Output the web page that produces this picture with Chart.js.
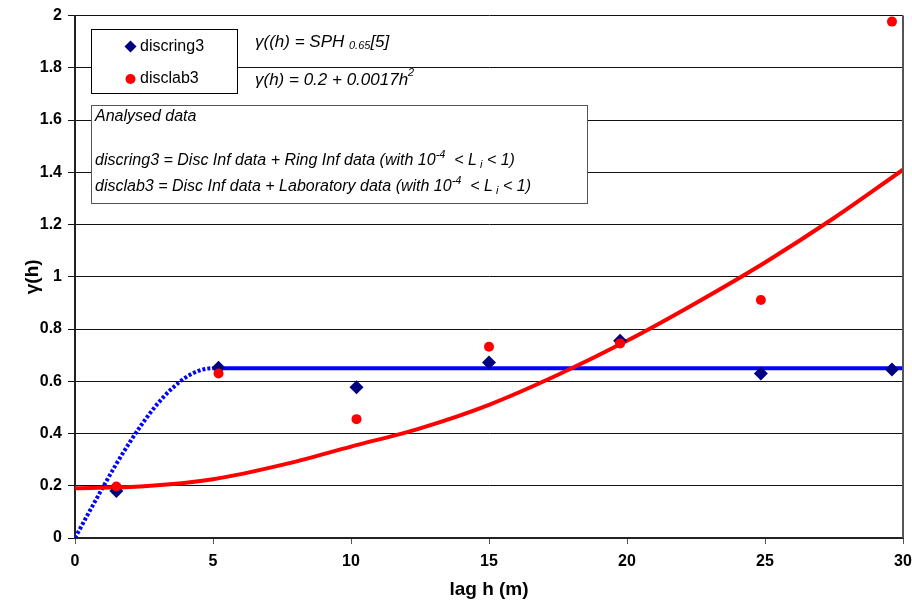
<!DOCTYPE html>
<html>
<head>
<meta charset="utf-8">
<script src="https://cdn.jsdelivr.net/npm/chart.js@4.4.1/dist/chart.umd.min.js"></script>
<style>
  html, body { margin: 0; padding: 0; background: #fff; }
  canvas { display: block; }
</style>
</head>
<body>
<canvas id="variogram" width="912" height="606"></canvas>
<script>
// observed experimental variogram points
const lags = [1.5, 5.2, 10.2, 15.0, 19.75, 24.85, 29.6];
const discring3 = [0.18, 0.652, 0.577, 0.672, 0.755, 0.63, 0.645];
const disclab3 = [0.197, 0.63, 0.455, 0.732, 0.745, 0.911, 1.977];

// fitted models
const sphLags = [0, 0.5, 1, 1.5, 2, 2.5, 3, 3.5, 4, 4.5, 5, 30];
const sphModel = [0, 0.097, 0.192, 0.284, 0.369, 0.447, 0.515, 0.571, 0.614, 0.641, 0.65, 0.65];
const quadLags = [0, 2.5, 5, 7.5, 10, 12.5, 15, 17.5, 20, 22.5, 25, 27.5, 30];
const quadModel = [0.19, 0.198, 0.225, 0.28, 0.35, 0.42, 0.51, 0.625, 0.755, 0.9, 1.055, 1.225, 1.41];

const xTicks = [0, 5, 10, 15, 20, 25, 30];
const yTicks = [0, 0.2, 0.4, 0.6, 0.8, 1, 1.2, 1.4, 1.6, 1.8, 2];

const FONT = "Arial, 'Liberation Sans', sans-serif";

function pts(xs, ys) {
    return xs.map((x, i) => ({ x: x, y: ys[i] }));
}

// draws a list of text pieces one after another (for sub/superscripts)
function drawRuns(ctx, x, y, runs) {
    runs.forEach(r => {
        ctx.font = r.font;
        ctx.fillText(r.t, x, y + (r.dy || 0));
        x += ctx.measureText(r.t).width;
    });
}

const itF = "italic 17px " + FONT;
const itFSmall = "italic 11px " + FONT;
const it = "italic 16px " + FONT;
const itSmall = "italic 11px " + FONT;

const boxesPlugin = {
    id: 'boxes',
    afterDraw(chart) {
        const ctx = chart.ctx;
        const area = chart.chartArea;
        ctx.save();

        // right frame line
        ctx.strokeStyle = '#555';
        ctx.lineWidth = 2;
        ctx.beginPath();
        ctx.moveTo(area.right, area.top);
        ctx.lineTo(area.right, area.bottom);
        ctx.stroke();

        // legend box
        ctx.fillStyle = '#fff';
        ctx.fillRect(91.5, 29.5, 146, 64);
        ctx.strokeStyle = '#000';
        ctx.lineWidth = 1;
        ctx.strokeRect(91.5, 29.5, 146, 64);

        ctx.fillStyle = '#000080';
        ctx.beginPath();
        ctx.moveTo(130.5, 40.5); ctx.lineTo(136.5, 46.5);
        ctx.lineTo(130.5, 52.5); ctx.lineTo(124.5, 46.5);
        ctx.closePath(); ctx.fill();
        ctx.fillStyle = '#ff0000';
        ctx.beginPath();
        ctx.arc(130.5, 79, 5, 0, Math.PI * 2);
        ctx.fill();

        ctx.fillStyle = '#000';
        ctx.textBaseline = 'middle';
        ctx.textAlign = 'left';
        ctx.font = "16px " + FONT;
        ctx.fillText('discring3', 140, 46.5);
        ctx.fillText('disclab3', 140, 79);

        // model formulas
        drawRuns(ctx, 255, 42, [
            { t: 'γ((h) = SPH ', font: itF },
            { t: '0.65', font: itFSmall, dy: 4 },
            { t: '[5]', font: itF }
        ]);
        drawRuns(ctx, 255, 80, [
            { t: 'γ(h) = 0.2 + 0.0017h', font: itF },
            { t: '2', font: itFSmall, dy: -7 }
        ]);

        // data description box
        ctx.fillStyle = '#fff';
        ctx.fillRect(91.5, 105.5, 496, 98);
        ctx.strokeStyle = '#555';
        ctx.strokeRect(91.5, 105.5, 496, 98);
        ctx.fillStyle = '#000';
        ctx.font = it;
        ctx.fillText('Analysed data', 95, 117);
        drawRuns(ctx, 95, 161, [
            { t: 'discring3 = Disc Inf data + Ring Inf data (with 10', font: it },
            { t: '-4', font: itSmall, dy: -6 },
            { t: '  < L', font: it },
            { t: ' i', font: itSmall, dy: 4 },
            { t: ' < 1)', font: it }
        ]);
        drawRuns(ctx, 95, 187, [
            { t: 'disclab3 = Disc Inf data + Laboratory data (with 10', font: it },
            { t: '-4', font: itSmall, dy: -6 },
            { t: '  < L', font: it },
            { t: ' i', font: itSmall, dy: 4 },
            { t: ' < 1)', font: it }
        ]);
        ctx.restore();
    }
};

new Chart(document.getElementById('variogram'), {
    type: 'scatter',
    data: {
        datasets: [
            {
                label: 'SPH',
                data: pts(sphLags, sphModel),
                showLine: true,
                borderColor: '#0000ff',
                borderWidth: 4,
                pointRadius: 0,
                cubicInterpolationMode: 'monotone',
                segment: {
                    borderDash: c => c.p1.parsed.x <= 5 ? [3, 2] : undefined
                },
                order: 4
            },
            {
                label: 'quadratic',
                data: pts(quadLags, quadModel),
                showLine: true,
                borderColor: '#ff0000',
                borderWidth: 4,
                pointRadius: 0,
                cubicInterpolationMode: 'monotone',
                order: 3
            },
            {
                label: 'discring3',
                data: pts(lags, discring3),
                pointStyle: 'rectRot',
                pointRadius: 7,
                backgroundColor: '#000080',
                borderColor: '#000080',
                borderWidth: 0,
                order: 2
            },
            {
                label: 'disclab3',
                data: pts(lags, disclab3),
                pointStyle: 'circle',
                pointRadius: 5,
                backgroundColor: '#ff0000',
                borderColor: '#ff0000',
                borderWidth: 0,
                order: 1
            }
        ]
    },
    options: {
        responsive: false,
        animation: false,
        layout: { padding: { top: 11, right: 0, left: 0, bottom: 0 } },
        plugins: {
            legend: { display: false },
            tooltip: { enabled: false }
        },
        scales: {
            x: {
                type: 'linear',
                min: 0,
                max: 30,
                afterBuildTicks: s => { s.ticks = xTicks.map(v => ({ value: v })); },
                afterFit: s => { s.height = 68; s.paddingRight = 9; },
                ticks: {
                    color: '#000',
                    padding: 8,
                    font: { family: FONT, size: 16, weight: 'bold' }
                },
                grid: { drawOnChartArea: false, tickLength: 6, color: '#555' },
                border: { width: 2, color: '#222' },
                title: {
                    display: true,
                    text: 'lag h (m)',
                    color: '#000',
                    padding: { top: 5, bottom: 5 },
                    font: { family: FONT, size: 19, weight: 'bold' }
                }
            },
            y: {
                type: 'linear',
                min: 0,
                max: 2,
                afterBuildTicks: s => { s.ticks = yTicks.map(v => ({ value: v })); },
                afterFit: s => { s.width = 75; },
                ticks: {
                    color: '#000',
                    padding: 6,
                    font: { family: FONT, size: 16, weight: 'bold' },
                    callback: v => String(+v.toFixed(1))
                },
                grid: { color: '#111', lineWidth: 1, tickLength: 7 },
                border: { width: 2, color: '#222' },
                title: {
                    display: true,
                    text: 'γ(h)',
                    color: '#000',
                    padding: { top: 21, bottom: 0 },
                    font: { family: FONT, size: 19, weight: 'bold' }
                }
            }
        }
    },
    plugins: [boxesPlugin]
});
</script>
</body>
</html>
